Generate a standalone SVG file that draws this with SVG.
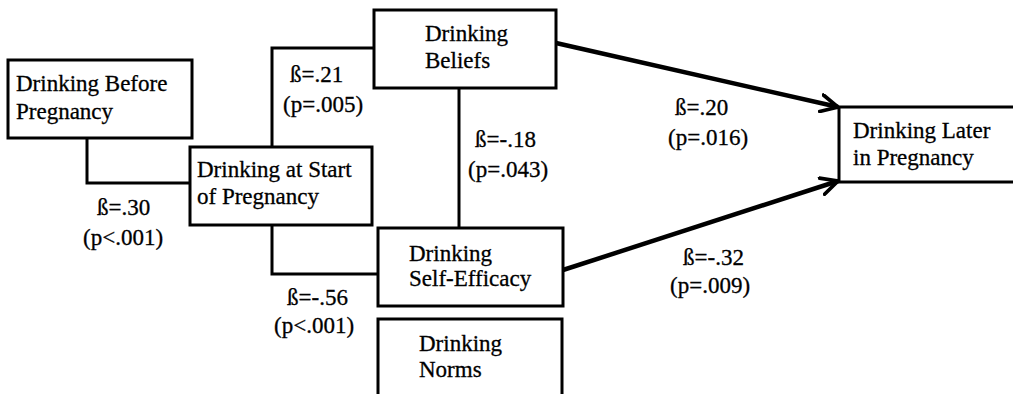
<svg xmlns="http://www.w3.org/2000/svg" width="1013" height="394" viewBox="0 0 1013 394">
<style>
.box{fill:#fff;stroke:#000;stroke-width:3}
.t{font-family:"Liberation Serif","Times New Roman",serif;font-size:23px;fill:#000;stroke:#000;stroke-width:0.3}
.c{fill:none;stroke:#000;stroke-width:3}
.a{fill:none;stroke:#000;stroke-width:4.5}
</style>
<defs>
<marker id="arr" viewBox="0 0 12 12" refX="11" refY="6" markerWidth="4.5" markerHeight="4.5" markerUnits="strokeWidth" orient="auto">
<path d="M1,1 L11,6 L1,11" fill="none" stroke="#000" stroke-width="2.2" stroke-linecap="round" stroke-linejoin="miter"/>
</marker>
</defs>
<rect width="1013" height="394" fill="#fff"/>
<g id="connectors">
<polyline class="c" points="87,138 87,183 190,183"/>
<polyline class="c" points="272,147 272,48 374,48"/>
<polyline class="c" points="272,225 272,274 378,274"/>
<line class="c" x1="459" y1="88" x2="459" y2="228"/>
<line class="a" x1="556" y1="43" x2="838" y2="107" marker-end="url(#arr)"/>
<line class="a" x1="563" y1="270" x2="838" y2="181" marker-end="url(#arr)"/>
</g>
<g id="labels" class="t">
<text x="290" y="82">ß=.21</text>
<text x="283" y="112">(p=.005)</text>
<text x="97" y="215">ß=.30</text>
<text x="83" y="245">(p&lt;.001)</text>
<text x="287" y="305">ß=-.56</text>
<text x="274" y="333">(p&lt;.001)</text>
<text x="475" y="147">ß=-.18</text>
<text x="468" y="177">(p=.043)</text>
<text x="675" y="115">ß=.20</text>
<text x="668" y="145">(p=.016)</text>
<text x="683" y="265">ß=-.32</text>
<text x="670" y="293">(p=.009)</text>
</g>
<g id="n1">
<rect class="box" x="8" y="60" width="184" height="78"/>
<text class="t" x="16" y="91">Drinking Before</text>
<text class="t" x="16" y="119">Pregnancy</text>
</g>
<g id="n2">
<rect class="box" x="190" y="147" width="182" height="78"/>
<text class="t" x="197" y="177">Drinking at Start</text>
<text class="t" x="197" y="204">of Pregnancy</text>
</g>
<g id="n3">
<rect class="box" x="374" y="10" width="182" height="78"/>
<text class="t" x="425" y="41">Drinking</text>
<text class="t" x="425" y="68">Beliefs</text>
</g>
<g id="n4">
<rect class="box" x="378" y="228" width="185" height="78"/>
<text class="t" x="409" y="261">Drinking</text>
<text class="t" x="409" y="286">Self-Efficacy</text>
</g>
<g id="n5">
<rect class="box" x="378" y="319" width="184" height="90"/>
<text class="t" x="419" y="351">Drinking</text>
<text class="t" x="419" y="377">Norms</text>
</g>
<g id="n6">
<rect class="box" x="839" y="107" width="190" height="75"/>
<text class="t" x="853" y="138">Drinking Later</text>
<text class="t" x="853" y="165">in Pregnancy</text>
</g>
</svg>
